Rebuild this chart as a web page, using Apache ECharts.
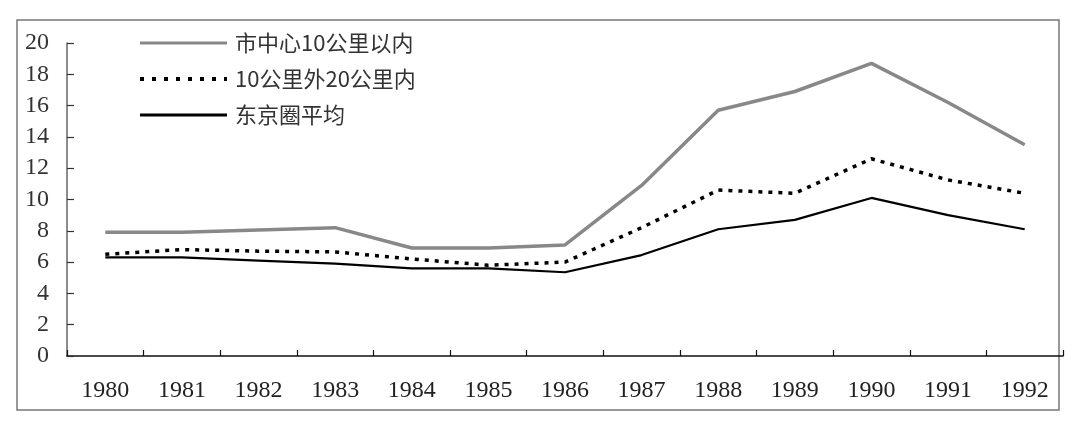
<!DOCTYPE html>
<html>
<head>
<meta charset="utf-8">
<script src="https://cdn.jsdelivr.net/npm/echarts@6/dist/echarts.min.js"></script>
<style>html,body{margin:0;padding:0;background:#fff;}#c{width:1080px;height:431px;}</style>
</head>
<body>
<div id="c"></div>
<script>
const years = ['1980','1981','1982','1983','1984','1985','1986','1987','1988','1989','1990','1991','1992'];
const seriesNames = ['市中心10公里以内', '10公里外20公里内', '东京圈平均'];
const center10 = [7.9, 7.9, 8.05, 8.2, 6.9, 6.9, 7.1, 10.9, 15.7, 16.9, 18.7, 16.2, 13.5];
const ring10to20 = [6.5, 6.8, 6.7, 6.65, 6.2, 5.8, 6.0, 8.2, 10.6, 10.4, 12.6, 11.25, 10.4];
const tokyoAvg = [6.3, 6.3, 6.1, 5.9, 5.6, 5.6, 5.35, 6.45, 8.1, 8.7, 10.1, 9.0, 8.1];
const yTicks = [0, 2, 4, 6, 8, 10, 12, 14, 16, 18, 20];

const styles = [
  {color: '#888', width: 3.5, type: 'solid'},
  {color: '#000', width: 3.5, type: [4, 6]},
  {color: '#000', width: 2.2, type: 'solid'}
];
const legendStyles = [
  {color: '#888', width: 3, type: 'solid'},
  {color: '#000', width: 4, type: [4, 8]},
  {color: '#000', width: 3, type: 'solid'}
];

const chart = echarts.init(document.getElementById('c'), null, {renderer: 'canvas'});
const serif = '"Liberation Serif", "DejaVu Serif", serif';
const cjk = '"Noto Sans CJK SC", "Noto Sans", sans-serif';
chart.setOption({
  animation: false,
  backgroundColor: '#fff',
  graphic: [{
    type: 'rect',
    shape: {x: 17, y: 20, width: 1042, height: 390},
    style: {fill: 'none', stroke: '#777', lineWidth: 1.5},
    silent: true
  }],
  legend: {
    orient: 'vertical',
    left: 133,
    top: 27,
    itemWidth: 87,
    itemHeight: 20,
    itemGap: 14,
    itemStyle: {opacity: 0},
    textStyle: {fontFamily: cjk, fontSize: 22, color: '#333', padding: [0, 0, 0, 3]},
    data: seriesNames.map((n, i) => ({name: n, lineStyle: legendStyles[i], itemStyle: {opacity: 0}}))
  },
  grid: {left: 67, right: 17, top: 43, bottom: 75, containLabel: false},
  xAxis: {
    type: 'category',
    data: years,
    boundaryGap: true,
    axisLine: {lineStyle: {color: '#111', width: 1.5}},
    axisTick: {show: true, inside: true, length: 6, lineStyle: {color: '#111', width: 1.2}},
    axisLabel: {fontFamily: serif, fontSize: 24, color: '#222', margin: 23}
  },
  yAxis: {
    type: 'value',
    min: yTicks[0],
    max: yTicks[yTicks.length - 1],
    interval: 2,
    axisLine: {show: true, lineStyle: {color: '#666', width: 1.5}},
    axisTick: {show: true, inside: true, length: 7, lineStyle: {color: '#333', width: 1.2}},
    splitLine: {show: false},
    axisLabel: {fontFamily: serif, fontSize: 24, color: '#333', margin: 18}
  },
  series: [
    {name: seriesNames[0], type: 'line', data: center10, symbol: 'none',
     lineStyle: styles[0], itemStyle: {color: '#888'}, z: 3},
    {name: seriesNames[1], type: 'line', data: ring10to20, symbol: 'none',
     lineStyle: styles[1], itemStyle: {color: '#000'}, z: 2},
    {name: seriesNames[2], type: 'line', data: tokyoAvg, symbol: 'none',
     lineStyle: styles[2], itemStyle: {color: '#000'}, z: 4}
  ]
});
</script>
</body>
</html>
